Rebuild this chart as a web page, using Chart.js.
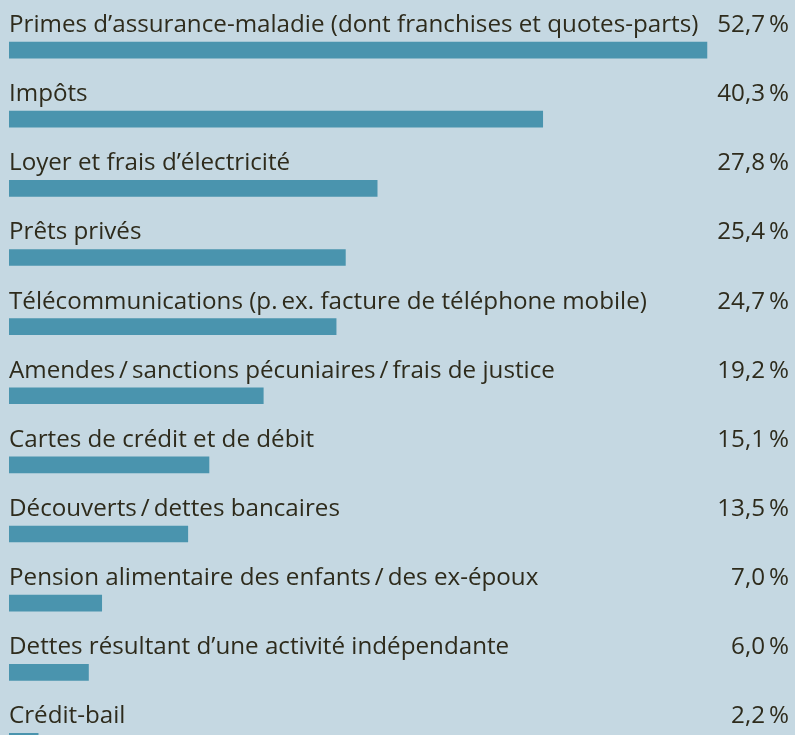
<!DOCTYPE html>
<html>
<head>
<meta charset="utf-8">
<script src="https://cdn.jsdelivr.net/npm/chart.js@4"></script>
<style>
  html, body { margin: 0; padding: 0; background: #c5d8e2; overflow: hidden; }
  #wrap { width: 795px; height: 776px; }
</style>
</head>
<body>
<div id="wrap"><canvas id="chartDettes"></canvas></div>
<script>
var categories = [
    'Primes d\u2019assurance-maladie (dont franchises et quotes-parts)',
    'Impôts',
    'Loyer et frais d\u2019électricité',
    'Prêts privés',
    'Télécommunications (p.\u2009ex. facture de téléphone mobile)',
    'Amendes\u2009/\u2009sanctions pécuniaires\u2009/\u2009frais de justice',
    'Cartes de crédit et de débit',
    'Découverts\u2009/\u2009dettes bancaires',
    'Pension alimentaire des enfants\u2009/\u2009des ex-époux',
    'Dettes résultant d\u2019une activité indépendante',
    'Crédit-bail'
];
var valeurs = [52.7, 40.3, 27.8, 25.4, 24.7, 19.2, 15.1, 13.5, 7.0, 6.0, 2.2];
var etiquettes = ['52,7\u2009%', '40,3\u2009%', '27,8\u2009%', '25,4\u2009%', '24,7\u2009%', '19,2\u2009%',
    '15,1\u2009%', '13,5\u2009%', '7,0\u2009%', '6,0\u2009%', '2,2\u2009%'];

// texte au-dessus de chaque barre
var textePlugin = {
    id: 'texte',
    afterDatasetsDraw: function(chart) {
        var ctx = chart.ctx;
        var meta = chart.getDatasetMeta(0);
        ctx.save();
        ctx.fillStyle = '#2e2b1c';
        ctx.font = '24.2px "Open Sans", sans-serif';
        ctx.textBaseline = 'alphabetic';
        meta.data.forEach(function(bar, i) {
            var top = bar.y - bar.height / 2;
            ctx.textAlign = 'left';
            ctx.fillText(categories[i], 9, top - 10);
            ctx.textAlign = 'right';
            ctx.fillText(etiquettes[i], 789, top - 10);
        });
        ctx.restore();
    }
};

var ctx = document.getElementById('chartDettes');
var chart = new Chart(ctx, {
    type: 'bar',
    data: {
        labels: categories,
        datasets: [{
            data: valeurs,
            backgroundColor: '#4a94ae',
            borderWidth: 0,
            barThickness: 16
        }]
    },
    options: {
        indexAxis: 'y',
        responsive: true,
        maintainAspectRatio: false,
        animation: false,
        layout: { padding: { left: 9, right: 0, top: 15.5, bottom: 0 } },
        plugins: { legend: { display: false }, tooltip: { enabled: false } },
        scales: {
            x: { display: false, min: 0, max: 59.35 },
            y: { display: false }
        }
    },
    plugins: [textePlugin]
});
</script>
</body>
</html>
